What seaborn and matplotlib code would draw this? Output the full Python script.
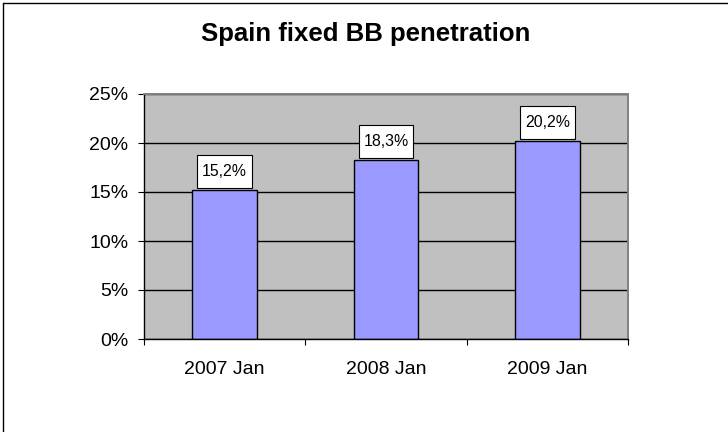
import matplotlib
matplotlib.use("Agg")
import matplotlib.pyplot as plt
from matplotlib.lines import Line2D
from matplotlib.path import Path
from matplotlib.ticker import FuncFormatter, FixedLocator
import seaborn as sns
import pandas as pd

# Fixed broadband penetration in Spain (share of population)
periods = ["2007 Jan", "2008 Jan", "2009 Jan"]
penetration = [15.2, 18.3, 20.2]
y_ticks = [0, 5, 10, 15, 20, 25]

df = pd.DataFrame({"period": periods, "penetration": penetration})

sns.set_theme(style="white")
plt.rcParams["font.family"] = ["Liberation Sans", "DejaVu Sans"]

W, H = 728, 432
fig = plt.figure(figsize=(W / 100, H / 100), dpi=100)
fig.patch.set_facecolor("white")

left, right, top, bottom = 144, 628, 94, 339
ax = fig.add_axes([left / W, 1 - bottom / H, (right - left) / W, (bottom - top) / H])
ax.set_facecolor("#C0C0C0")

sns.barplot(data=df, x="period", y="penetration", color="#9999FF",
            width=0.4, edgecolor="black", linewidth=1.0, saturation=1, ax=ax)

ax.set_ylim(0, 25)
ax.set_xlim(-0.5, len(periods) - 0.5)
ax.yaxis.set_major_locator(FixedLocator(y_ticks))
ax.yaxis.set_major_formatter(FuncFormatter(lambda v, _: f"{v:.0f}%"))
ax.set_xlabel("")
ax.set_ylabel("")

# horizontal gridlines behind the bars
ax.set_axisbelow(True)
ax.yaxis.grid(True, color="black", linewidth=1.0)
ax.xaxis.grid(False)

for side in ("left", "bottom"):
    ax.spines[side].set_color("black")
    ax.spines[side].set_linewidth(1.0)
for side in ("top", "right"):
    ax.spines[side].set_color("#808080")
    ax.spines[side].set_linewidth(1.4)

ax.tick_params(axis="y", which="major", direction="out", length=4.3, width=0.8,
               color="black", labelsize=14, pad=7, left=True)
ax.tick_params(axis="x", which="major", length=0, labelsize=14, pad=16)
# category separators on the x axis
ax.xaxis.set_minor_locator(FixedLocator([i - 0.5 for i in range(len(periods) + 1)]))
ax.tick_params(axis="x", which="minor", direction="out", length=4.5, width=0.8,
               color="black", bottom=True)
ax.tick_params(colors="black", which="both", axis="both", labelcolor="black")


def label_box(x0, y0, width, height, mutation_size):
    """Rectangle with a narrow side padding and a taller top/bottom padding."""
    px = 0.30 * mutation_size
    py = 0.55 * mutation_size
    xa, xb = x0 - px, x0 + width + px
    ya, yb = y0 - py, y0 + height + py
    return Path([(xa, ya), (xb, ya), (xb, yb), (xa, yb), (xa, ya)], closed=True)


for i, v in enumerate(penetration):
    ax.annotate(f"{v:.1f}%".replace(".", ","), xy=(i, v), xytext=(0, 7.8),
                textcoords="offset points", ha="center", va="bottom",
                fontsize=11.4, color="black",
                bbox=dict(boxstyle=label_box, fc="white", ec="black", lw=0.8))

fig.text(366 / W, 1 - 34 / H, "Spain fixed BB penetration", ha="center", va="center",
         fontsize=18.5, fontweight="bold", color="black")

# frame lines along the left and top edges of the chart area
fig.add_artist(Line2D([2.5 / W, 2.5 / W], [0, 1 - 2.5 / H], transform=fig.transFigure,
                      color="black", linewidth=1.0))
fig.add_artist(Line2D([2.5 / W, 1], [1 - 2.5 / H, 1 - 2.5 / H], transform=fig.transFigure,
                      color="black", linewidth=1.0))

fig.savefig("out.png", dpi=100, facecolor="white")
